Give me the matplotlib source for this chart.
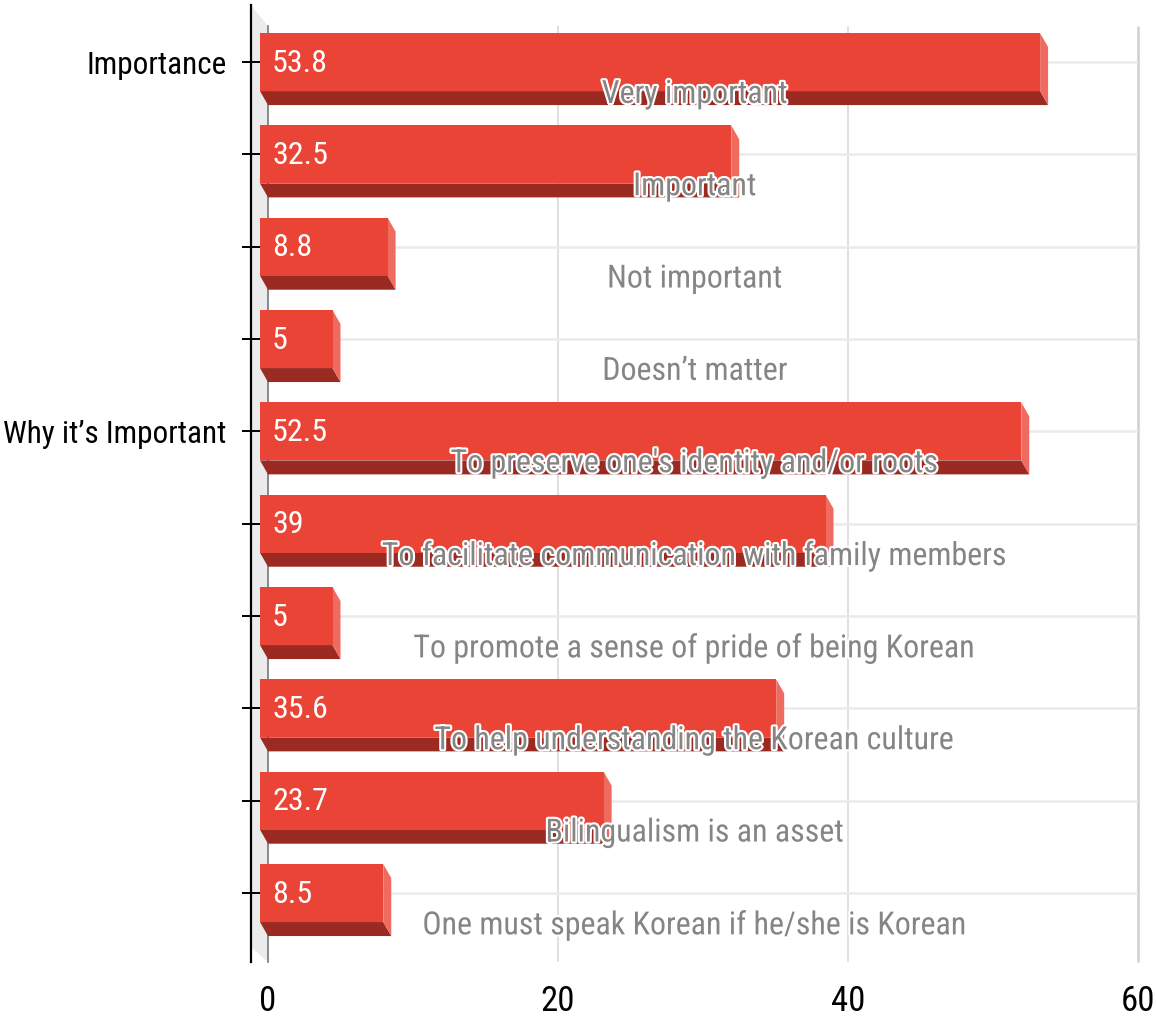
import numpy as np
import matplotlib
matplotlib.use("Agg")
import matplotlib.pyplot as plt
from matplotlib import font_manager
from matplotlib.patches import Polygon, Rectangle
import matplotlib.patheffects as pe

# data
groups = ["Importance", "", "", "", "Why it\u2019s Important", "", "", "", "", ""]
answers = ["Very important", "Important", "Not important", "Doesn\u2019t matter",
           "To preserve one's identity and/or roots",
           "To facilitate communication with family members",
           "To promote a sense of pride of being Korean",
           "To help understanding the Korean culture",
           "Bilingualism is an asset",
           "One must speak Korean if he/she is Korean"]
values = [53.8, 32.5, 8.8, 5, 52.5, 39, 5, 35.6, 23.7, 8.5]
xticks = [0, 20, 40, 60]

# narrow font if there is one
names = {f.name for f in font_manager.fontManager.ttflist}
font = "Liberation Sans"
scale = 0.83
for cand in ["Roboto Condensed", "Liberation Sans Narrow", "Archivo Narrow"]:
    if cand in names:
        font = cand
        scale = 1.0
        break
plt.rcParams["font.family"] = [font, "DejaVu Sans"]

RED = "#E94436"
DARK = "#9B2A22"
SIDE = "#EF6A5F"
WALL = "#EBEBEB"

W, H = 1156, 1021
fig = plt.figure(figsize=(W / 100, H / 100), dpi=100)
# back plane: x 0 -> 268px, 60 -> 1138px ; category i (front) at 62 + 92.33*i px from top
ax = fig.add_axes([268 / W, (H - 939.2) / H, 870 / W, 923.3 / H])
ax.set_xlim(0, 60)
ax.set_ylim(9.5, -0.5)

pxx = 870 / 60.0
pxy = 923.3 / 10.0
dx = 8 / pxx     # depth, x
dy = 14 / pxy    # depth, y (down)
h = 58 / pxy     # bar thickness

ytop = (26 - 62) / pxy
ybot = (962 - 62) / pxy
xwall = -17 / pxx

# wall
ax.add_patch(Polygon([(xwall, (5 - 62) / pxy), (0, ytop), (0, ybot), (xwall, (947 - 62) / pxy)],
                     closed=True, facecolor=WALL, edgecolor="none", clip_on=False, zorder=1))
ax.plot([0, 0], [ytop, ybot], color="#777777", lw=1.2, clip_on=False, zorder=1.5)

# grid
ax.vlines(xticks[1:-1], ytop, ybot, color="#DDDDDD", lw=1.3, zorder=0.5, clip_on=False)
ax.vlines(xticks[-1], ytop, ybot, color="#D0D0D0", lw=1.8, zorder=0.5, clip_on=False)
ax.hlines(range(len(values)), 0, 60, color="#EBEBEB", lw=1.8, zorder=0.5)

# bars
for i, v in enumerate(values):
    y0, y1 = i - h / 2, i + h / 2
    ax.add_patch(Polygon([(-dx, y1), (v - dx, y1), (v, y1 + dy), (0, y1 + dy)],
                         closed=True, facecolor=DARK, edgecolor="none", zorder=2, clip_on=False))
    ax.add_patch(Polygon([(v - dx, y0), (v, y0 + dy), (v, y1 + dy), (v - dx, y1)],
                         closed=True, facecolor=SIDE, edgecolor="none", zorder=2, clip_on=False))
    ax.add_patch(Rectangle((-dx, y0), v, h, facecolor=RED, edgecolor="none", zorder=3,
                           clip_on=False))
    ax.annotate(f"{v:g}", (-dx, i), xytext=(12, -1), textcoords="offset pixels",
                ha="left", va="center", color="white", fontsize=23 * scale, zorder=4,
                annotation_clip=False)
    ax.text(30 - dx, i + 0.35, answers[i], ha="center", va="center", color="#858585",
            fontsize=23 * scale, zorder=5,
            path_effects=[pe.withStroke(linewidth=3, foreground="white")])

# axes
for s in ["top", "right", "bottom"]:
    ax.spines[s].set_visible(False)
ax.spines["left"].set_position(("outward", 17 * 0.72))
ax.spines["left"].set_bounds((962 - 62) / pxy, (5 - 62) / pxy)
ax.spines["left"].set_linewidth(1.6)
ax.set_yticks(range(len(values)))
ax.set_yticklabels(groups, fontsize=22.5 * scale)
ax.tick_params(axis="y", direction="inout", length=13, width=1.4, pad=11)
ax.set_xticks(xticks)
ax.set_xticklabels([str(t) for t in xticks], fontsize=25 * scale)
ax.tick_params(axis="x", length=0, pad=33)
ax.patch.set_visible(False)

fig.savefig("out.png", dpi=100)
